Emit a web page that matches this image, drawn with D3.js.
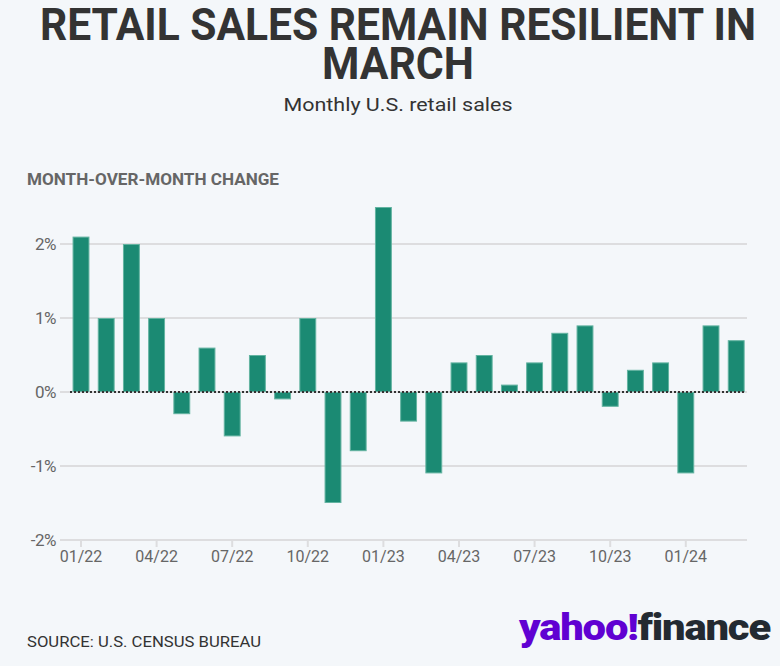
<!DOCTYPE html>
<html>
<head>
<meta charset="utf-8">
<script src="https://cdn.jsdelivr.net/npm/d3@7"></script>
<style>
  html, body { margin: 0; padding: 0; background: #f4f7fa; }
  svg { display: block; }
</style>
</head>
<body>
<svg id="chart" width="780" height="666"></svg>
<script>
const months = ["01/22","02/22","03/22","04/22","05/22","06/22","07/22","08/22","09/22","10/22","11/22","12/22",
                "01/23","02/23","03/23","04/23","05/23","06/23","07/23","08/23","09/23","10/23","11/23","12/23",
                "01/24","02/24","03/24"];
const changes = [2.1, 1.0, 2.0, 1.0, -0.3, 0.6, -0.6, 0.5, -0.1, 1.0, -1.5, -0.8,
                 2.5, -0.4, -1.1, 0.4, 0.5, 0.1, 0.4, 0.8, 0.9, -0.2, 0.3, 0.4,
                 -1.1, 0.9, 0.7];
const xTickLabels = ["01/22","04/22","07/22","10/22","01/23","04/23","07/23","10/23","01/24"];
const yTicks = [-2, -1, 0, 1, 2];

const svg = d3.select("#chart");
svg.append("rect").attr("width", 780).attr("height", 666).attr("fill", "#f4f7fa");

// Title
svg.append("text").attr("x", 398).attr("y", 40).attr("text-anchor", "middle")
  .attr("font-family", "Roboto, sans-serif").attr("font-weight", 700).attr("font-size", 44)
  .attr("fill", "#333").attr("textLength", 716).attr("lengthAdjust", "spacingAndGlyphs")
  .text("RETAIL SALES REMAIN RESILIENT IN");
svg.append("text").attr("x", 398).attr("y", 79).attr("text-anchor", "middle")
  .attr("font-family", "Roboto, sans-serif").attr("font-weight", 700).attr("font-size", 44)
  .attr("fill", "#333").attr("textLength", 152).attr("lengthAdjust", "spacingAndGlyphs")
  .text("MARCH");
svg.append("text").attr("x", 398).attr("y", 111).attr("text-anchor", "middle")
  .attr("font-family", "Roboto, sans-serif").attr("font-size", 19)
  .attr("fill", "#333").attr("textLength", 229).attr("lengthAdjust", "spacingAndGlyphs")
  .text("Monthly U.S. retail sales");

svg.append("text").attr("x", 27).attr("y", 185)
  .attr("font-family", "Roboto, sans-serif").attr("font-weight", 700).attr("font-size", 16)
  .attr("fill", "#666").attr("textLength", 252).attr("lengthAdjust", "spacingAndGlyphs")
  .text("MONTH-OVER-MONTH CHANGE");

// Scales
const x = d3.scaleBand().domain(months).range([68.4, 748.8]).paddingInner(0.33).paddingOuter(0.165);
const y = d3.scaleLinear().domain([-2, 2]).range([540, 244]);

// Gridlines
svg.append("g").selectAll("line").data(yTicks).join("line")
  .attr("x1", 60).attr("x2", 747)
  .attr("y1", d => y(d)).attr("y2", d => y(d))
  .attr("stroke", "#dddddf").attr("stroke-width", 2);

// Y labels
svg.append("g").selectAll("text").data(yTicks).join("text")
  .attr("x", 56).attr("y", d => y(d) + 6).attr("text-anchor", "end")
  .attr("font-family", "Roboto, sans-serif").attr("font-size", 17).attr("fill", "#666")
  .attr("letter-spacing", -0.5)
  .text(d => d + "%");

// X axis
const xAxis = d3.axisBottom(x).tickValues(xTickLabels).tickSize(7).tickSizeOuter(0);
const gx = svg.append("g").attr("transform", `translate(0,${y(-2)})`).call(xAxis);
gx.select(".domain").remove();
gx.selectAll(".tick line").attr("stroke", "#dddddf").attr("stroke-width", 2);
gx.selectAll(".tick text").attr("font-family", "Roboto, sans-serif").attr("font-size", 16)
  .attr("fill", "#666").attr("dy", "1.05em").attr("y", 5);

// Bars
svg.append("g").selectAll("rect").data(changes).join("rect")
  .attr("x", (d, i) => x(months[i]) + 0.5)
  .attr("width", x.bandwidth() - 1)
  .attr("y", d => Math.min(y(d), y(0)) + 0.5)
  .attr("height", d => Math.abs(y(d) - y(0)) - 1)
  .attr("fill", "#1b8a73").attr("stroke", "#63b3a1").attr("stroke-width", 1);

// Zero line
svg.append("line").attr("x1", 70).attr("x2", 746).attr("y1", y(0)).attr("y2", y(0))
  .attr("stroke", "#333").attr("stroke-width", 2).attr("stroke-dasharray", "2,2");

// Source
svg.append("text").attr("x", 27).attr("y", 647)
  .attr("font-family", "Roboto, sans-serif").attr("font-size", 14.5).attr("fill", "#333")
  .attr("textLength", 234).attr("lengthAdjust", "spacingAndGlyphs")
  .text("SOURCE: U.S. CENSUS BUREAU");

// Logo
const logo = svg.append("text").attr("x", 519).attr("y", 640)
  .attr("font-family", "Roboto, sans-serif").attr("font-weight", 900).attr("font-size", 36)
  .attr("letter-spacing", -1);
logo.append("tspan").attr("fill", "#6001d2").text("yahoo!");
logo.append("tspan").attr("fill", "#232a31").text("finance");
logo.attr("textLength", 251).attr("lengthAdjust", "spacingAndGlyphs");
</script>
</body>
</html>
